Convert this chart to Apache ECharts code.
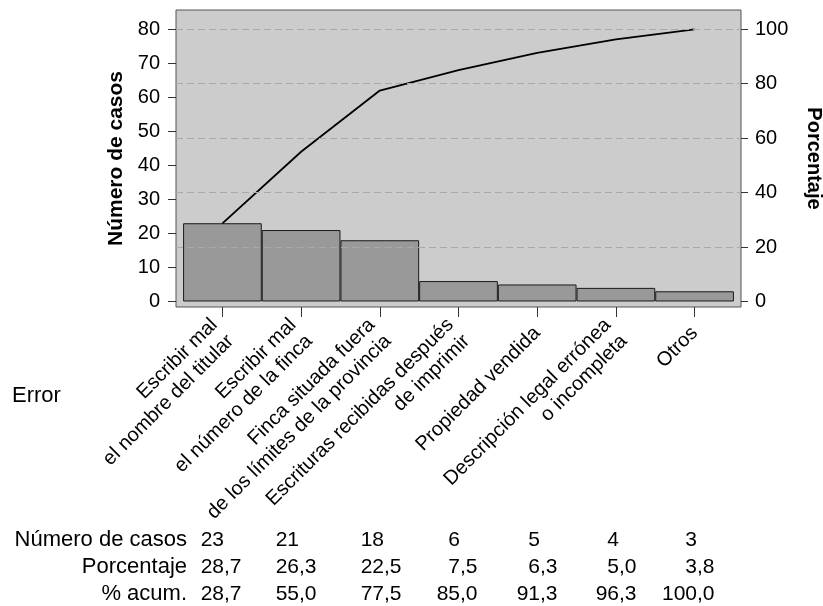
<!DOCTYPE html>
<html>
<head>
<meta charset="utf-8">
<script src="https://cdn.jsdelivr.net/npm/echarts@6/dist/echarts.min.js"></script>
<style>
html,body{margin:0;padding:0;background:#fff;}
#main{width:823px;height:606px;}
</style>
</head>
<body>
<div id="main"></div>
<script>
// ---- data ----
const categories = [
  'Escribir mal\nel nombre del titular',
  'Escribir mal\nel número de la finca',
  'Finca situada fuera\nde los límites de la provincia',
  'Escrituras recibidas después\nde imprimir',
  'Propiedad vendida',
  'Descripción legal errónea\no incompleta',
  'Otros'
];
const counts = [23, 21, 18, 6, 5, 4, 3];
const percents = [28.7, 26.3, 22.5, 7.5, 6.3, 5.0, 3.8];
const cumPercents = [28.7, 55.0, 77.5, 85.0, 91.3, 96.3, 100.0];
const countTicks = [0, 10, 20, 30, 40, 50, 60, 70, 80];
const percentTicks = [0, 20, 40, 60, 80, 100];
const gridPercents = [20, 40, 60, 80, 100];
const rowLabels = ['Número de casos', 'Porcentaje', '% acum.'];

// ---- layout ----
const FONT = '"Liberation Sans", Arial, Helvetica, sans-serif';
const frame = {left: 176, top: 10, right: 741, bottom: 307};
const colUnitsX = [224, 299, 384, 460, 540, 619, 697];
const rowY = [540, 567, 594];
const labelFont = 22, valueFont = 21;

const chart = echarts.init(document.getElementById('main'), null, {renderer: 'canvas'});

const fmt = v => v.toFixed(1).replace('.', ',');
const catIdx = categories.map((c, i) => i);

const option = {
  animation: false,
  textStyle: {fontFamily: FONT, color: '#000'},
  grid: {
    left: frame.left, top: frame.top,
    width: frame.right - frame.left, height: frame.bottom - frame.top,
    show: true, backgroundColor: '#cccccc', borderColor: '#555555', borderWidth: 1,
    containLabel: false,
    outerBoundsMode: 'none'
  },
  xAxis: {
    type: 'value',
    min: -0.59, max: 6.59,
    axisLine: {show: false, onZero: false},
    splitLine: {show: false},
    axisTick: {show: true, length: 10, customValues: catIdx,
      lineStyle: {color: '#333', width: 1}},
    axisLabel: {
      customValues: catIdx,
      formatter: v => categories[Math.round(v)],
      rotate: 45, margin: 23, fontSize: 20, lineHeight: 23,
      color: '#000', fontFamily: FONT
    }
  },
  yAxis: [
    {
      type: 'value', position: 'left',
      min: -1.62, max: 85.68,
      name: 'Número de casos', nameLocation: 'middle', nameRotate: 90, nameGap: 48,
      nameTextStyle: {fontSize: 21, fontWeight: 'bold', color: '#000', fontFamily: FONT},
      axisLine: {show: false, onZero: false},
      splitLine: {show: false},
      axisTick: {show: true, length: 8, customValues: countTicks, lineStyle: {color: '#333'}},
      axisLabel: {customValues: countTicks, margin: 16, fontSize: 20, color: '#000', fontFamily: FONT}
    },
    {
      type: 'value', position: 'right',
      min: -2.02, max: 107.08,
      name: 'Porcentaje', nameLocation: 'middle', nameRotate: -90, nameGap: 63,
      nameTextStyle: {fontSize: 20, fontWeight: 'bold', color: '#000', fontFamily: FONT},
      axisLine: {show: false, onZero: false},
      splitLine: {show: false},
      axisTick: {show: true, length: 7, customValues: percentTicks, lineStyle: {color: '#333'}},
      axisLabel: {customValues: percentTicks, margin: 14, fontSize: 20, color: '#000', fontFamily: FONT}
    }
  ],
  series: [
    {
      name: 'grid', type: 'line', yAxisIndex: 1, data: [], z: 1, silent: true,
      markLine: {
        silent: true, symbol: 'none', label: {show: false},
        lineStyle: {color: '#a9a9a9', width: 1, type: [7, 4]},
        data: gridPercents.map(v => ({yAxis: v}))
      }
    },
    {
      name: 'Número de casos', type: 'bar', yAxisIndex: 0, z: 2,
      data: counts.map((v, i) => [i, v]),
      barWidth: '100%',
      itemStyle: {color: '#999999', borderColor: '#1a1a1a', borderWidth: 1}
    },
    {
      name: '% acum.', type: 'line', yAxisIndex: 1, z: 3,
      data: cumPercents.map((v, i) => [i, v]),
      symbol: 'none',
      lineStyle: {color: '#000', width: 1.8}
    }
  ]
};
chart.setOption(option);

// ---- text table below the chart ----
const cvs = document.createElement('canvas');
const ctx = cvs.getContext('2d');
ctx.font = valueFont + 'px ' + FONT;
const decWidth = s => { const p = s.indexOf(','); return p < 0 ? 0 : ctx.measureText(s.slice(p)).width; };

const graphics = [];
graphics.push({
  type: 'text', x: 12, y: 396, silent: true,
  style: {text: 'Error', font: labelFont + 'px ' + FONT, fill: '#000',
    textAlign: 'left', textVerticalAlign: 'middle'}
});
const rows = [counts.map(v => String(v)), percents.map(fmt), cumPercents.map(fmt)];
rows.forEach((vals, r) => {
  graphics.push({
    type: 'text', x: 187, y: rowY[r], silent: true,
    style: {text: rowLabels[r], font: labelFont + 'px ' + FONT, fill: '#000',
      textAlign: 'right', textVerticalAlign: 'middle'}
  });
  vals.forEach((s, c) => {
    graphics.push({
      type: 'text', x: colUnitsX[c] + decWidth(s), y: rowY[r], silent: true,
      style: {text: s, font: valueFont + 'px ' + FONT, fill: '#000',
        textAlign: 'right', textVerticalAlign: 'middle'}
    });
  });
});
chart.setOption({graphic: graphics});
</script>
</body>
</html>
